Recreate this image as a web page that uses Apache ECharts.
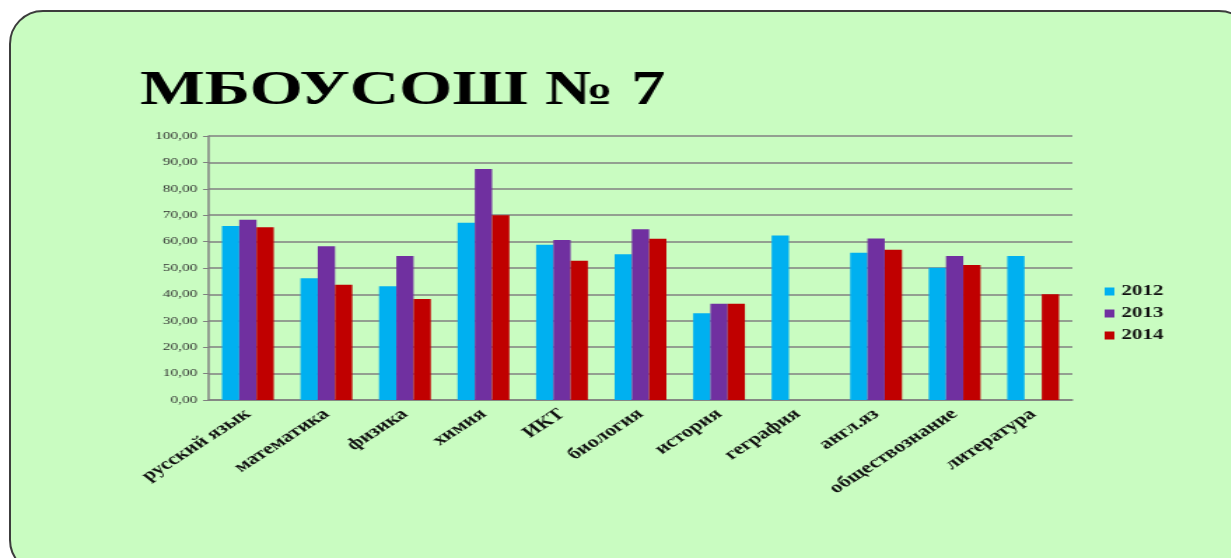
<!DOCTYPE html>
<html>
<head>
<meta charset="utf-8">
<script src="https://cdn.jsdelivr.net/npm/echarts@6/dist/echarts.min.js"></script>
<style>
  html, body { margin: 0; padding: 0; background: #fff; overflow: hidden; }
  .card {
    position: absolute;
    left: 9px;
    top: 10px;
    width: 1240px;
    height: 560px;
    border: 2px solid #3c3c3c;
    border-radius: 34px;
    background: #c9fcc1;
  }
  /* the slide picture is stretched sideways, so the chart is drawn narrow and widened */
  #chart {
    position: absolute;
    left: 0;
    top: 0;
    width: 880px;
    height: 558px;
    transform: scaleX(1.4);
    transform-origin: 0 0;
  }
</style>
</head>
<body>
<div class="card"></div>
<div id="chart"></div>
<script>
const subjects = ['русский язык', 'математика', 'физика', 'химия', 'ИКТ', 'биология',
  'история', 'геграфия', 'англ.яз', 'обществознание', 'литература']
const years = ['2012', '2013', '2014']
const scores2012 = [65.9, 46.1, 43.1, 67.1, 58.8, 55.2, 32.9, 62.3, 55.8, 50.1, 54.5]
const scores2013 = [68.3, 58.2, 54.5, 87.5, 60.6, 64.7, 36.5, null, 61.2, 54.5, null]
const scores2014 = [65.4, 43.7, 38.3, 70.0, 52.7, 61.1, 36.5, null, 56.9, 51.1, 40.1]
const colors = ['#00b0f0', '#7030a0', '#c00000']

const serif = '"Liberation Serif", "DejaVu Serif", serif'
const chart = echarts.init(document.getElementById('chart'))

function barSeries(name, data) {
  return {
    name: name,
    type: 'bar',
    data: data,
    barGap: '0%',
    barCategoryGap: '34%'
  }
}

chart.setOption({
  animation: false,
  color: colors,
  title: {
    text: 'МБОУСОШ № 7',
    left: 95,
    top: 62,
    textStyle: { fontFamily: serif, fontWeight: 'bold', fontSize: 49, color: '#000' }
  },
  legend: {
    orient: 'vertical',
    left: 784,
    top: 279,
    itemGap: 7,
    itemWidth: 7,
    itemHeight: 8,
    icon: 'rect',
    data: years,
    textStyle: { fontFamily: serif, fontWeight: 'bold', fontSize: 15, color: '#111' }
  },
  grid: { left: 149, right: 114, top: 136, bottom: 158 },
  xAxis: {
    type: 'category',
    data: subjects,
    axisLine: { lineStyle: { color: '#808080', width: 1.5 } },
    axisTick: { length: 4, lineStyle: { color: '#808080' } },
    axisLabel: {
      interval: 0,
      rotate: 42,
      margin: 12,
      fontFamily: serif,
      fontWeight: 'bold',
      fontSize: 16,
      color: '#111'
    }
  },
  yAxis: {
    type: 'value',
    min: 0,
    max: 100,
    interval: 10,
    axisLine: { show: true, lineStyle: { color: '#808080', width: 1.5 } },
    axisTick: { show: true, length: 4, lineStyle: { color: '#808080' } },
    splitLine: { lineStyle: { color: '#808080', width: 1.5 } },
    axisLabel: {
      margin: 8,
      fontFamily: serif,
      fontSize: 11,
      color: '#333',
      formatter: v => v.toFixed(2).replace('.', ',')
    }
  },
  series: [
    barSeries(years[0], scores2012),
    barSeries(years[1], scores2013),
    barSeries(years[2], scores2014)
  ]
})
</script>
</body>
</html>
